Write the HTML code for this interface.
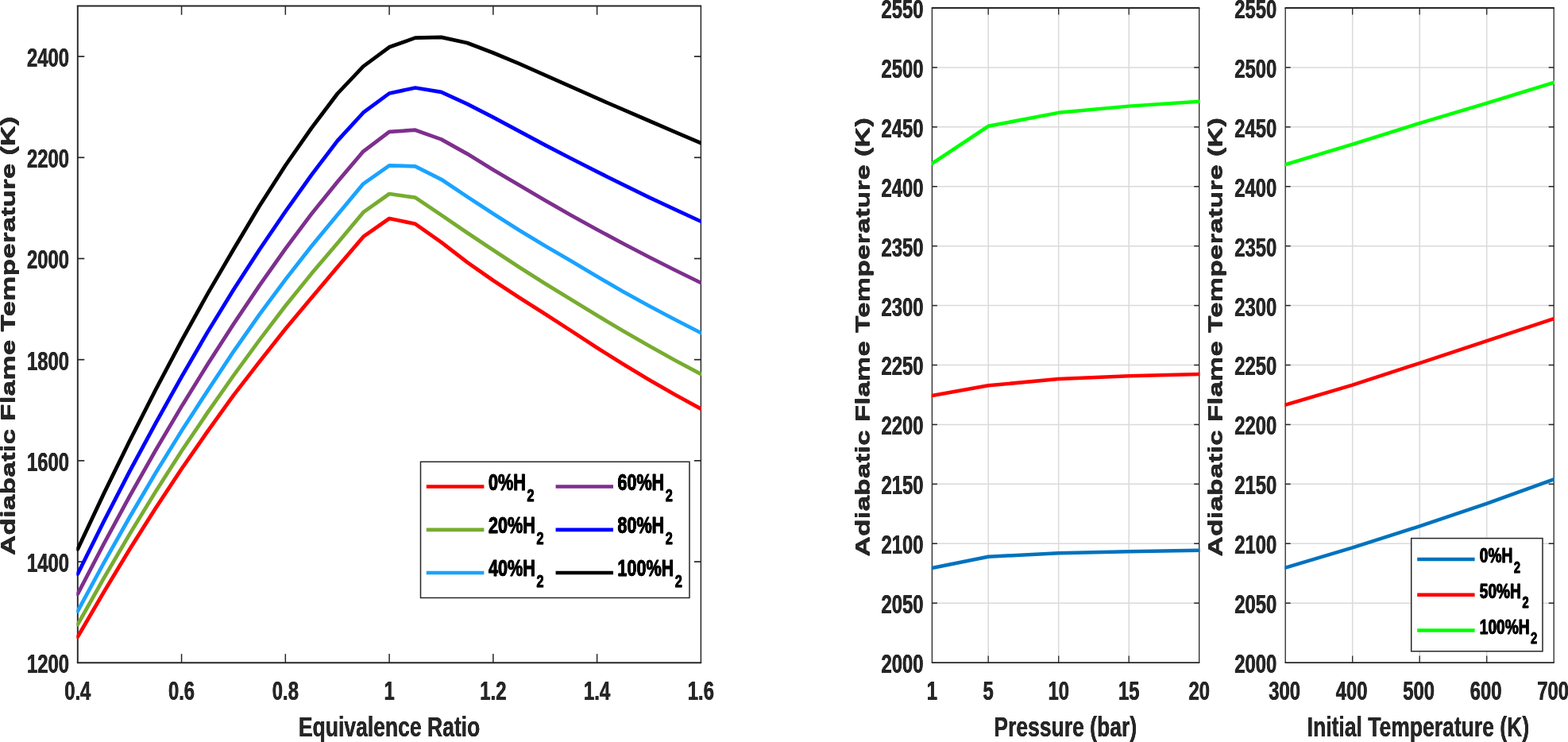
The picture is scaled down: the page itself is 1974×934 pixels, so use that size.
<!DOCTYPE html>
<html lang="en">
<head>
<meta charset="utf-8">
<title>Adiabatic Flame Temperature</title>
<style>
html,body{margin:0;padding:0;background:#fff;}
body{width:1974px;height:934px;overflow:hidden;}
svg{display:block;}
</style>
</head>
<body>
<svg width="1974" height="934" viewBox="0 0 1974 934" font-family="'Liberation Sans', sans-serif" font-weight="bold">
<rect width="1974" height="934" fill="#ffffff"/>
<g id="left-plot">
<line x1="228.57" y1="834.30" x2="228.57" y2="823.10" stroke="#262626" stroke-width="1.5"/>
<line x1="228.57" y1="7.50" x2="228.57" y2="18.70" stroke="#262626" stroke-width="1.5"/>
<line x1="359.33" y1="834.30" x2="359.33" y2="823.10" stroke="#262626" stroke-width="1.5"/>
<line x1="359.33" y1="7.50" x2="359.33" y2="18.70" stroke="#262626" stroke-width="1.5"/>
<line x1="490.10" y1="834.30" x2="490.10" y2="823.10" stroke="#262626" stroke-width="1.5"/>
<line x1="490.10" y1="7.50" x2="490.10" y2="18.70" stroke="#262626" stroke-width="1.5"/>
<line x1="620.87" y1="834.30" x2="620.87" y2="823.10" stroke="#262626" stroke-width="1.5"/>
<line x1="620.87" y1="7.50" x2="620.87" y2="18.70" stroke="#262626" stroke-width="1.5"/>
<line x1="751.63" y1="834.30" x2="751.63" y2="823.10" stroke="#262626" stroke-width="1.5"/>
<line x1="751.63" y1="7.50" x2="751.63" y2="18.70" stroke="#262626" stroke-width="1.5"/>
<line x1="97.80" y1="707.10" x2="106.30" y2="707.10" stroke="#262626" stroke-width="1.7"/>
<line x1="882.40" y1="707.10" x2="873.90" y2="707.10" stroke="#262626" stroke-width="1.7"/>
<line x1="97.80" y1="579.90" x2="106.30" y2="579.90" stroke="#262626" stroke-width="1.7"/>
<line x1="882.40" y1="579.90" x2="873.90" y2="579.90" stroke="#262626" stroke-width="1.7"/>
<line x1="97.80" y1="452.70" x2="106.30" y2="452.70" stroke="#262626" stroke-width="1.7"/>
<line x1="882.40" y1="452.70" x2="873.90" y2="452.70" stroke="#262626" stroke-width="1.7"/>
<line x1="97.80" y1="325.50" x2="106.30" y2="325.50" stroke="#262626" stroke-width="1.7"/>
<line x1="882.40" y1="325.50" x2="873.90" y2="325.50" stroke="#262626" stroke-width="1.7"/>
<line x1="97.80" y1="198.30" x2="106.30" y2="198.30" stroke="#262626" stroke-width="1.7"/>
<line x1="882.40" y1="198.30" x2="873.90" y2="198.30" stroke="#262626" stroke-width="1.7"/>
<line x1="97.80" y1="71.10" x2="106.30" y2="71.10" stroke="#262626" stroke-width="1.7"/>
<line x1="882.40" y1="71.10" x2="873.90" y2="71.10" stroke="#262626" stroke-width="1.7"/>
<line x1="96.85" y1="7.50" x2="883.15" y2="7.50" stroke="#262626" stroke-width="2.0"/>
<line x1="96.85" y1="834.30" x2="883.15" y2="834.30" stroke="#262626" stroke-width="2.0"/>
<line x1="97.80" y1="7.50" x2="97.80" y2="834.30" stroke="#262626" stroke-width="1.9"/>
<line x1="882.40" y1="7.50" x2="882.40" y2="834.30" stroke="#262626" stroke-width="1.5"/>
<clipPath id="clipL"><rect x="96.30" y="7.50" width="786.50" height="826.80"/></clipPath>
<g clip-path="url(#clipL)">
<polyline transform="scale(1.03 1)" points="94.95,801.70 126.69,745.60 158.43,691.50 190.17,639.70 221.91,590.20 253.65,543.10 285.39,497.60 317.13,455.30 348.87,414.00 380.61,374.90 412.35,336.20 444.09,297.90 475.83,275.00 507.56,281.80 539.30,304.90 571.04,330.10 602.78,353.00 634.52,374.50 666.26,395.20 698.00,416.40 729.74,437.80 761.48,458.30 793.22,478.00 824.96,496.80 856.70,514.60" fill="none" stroke="#ff0000" stroke-width="4.7" stroke-linejoin="round" stroke-linecap="round"/>
<polyline transform="scale(1.03 1)" points="94.95,786.20 126.69,728.20 158.43,672.40 190.17,618.90 221.91,567.80 253.65,519.40 285.39,472.80 317.13,428.00 348.87,385.00 380.61,344.60 412.35,306.30 444.09,267.20 475.83,244.00 507.56,248.60 539.30,270.60 571.04,293.00 602.78,314.80 634.52,336.30 666.26,357.00 698.00,376.90 729.74,397.00 761.48,416.50 793.22,435.30 824.96,453.50 856.70,470.90" fill="none" stroke="#77ac30" stroke-width="4.7" stroke-linejoin="round" stroke-linecap="round"/>
<polyline transform="scale(1.03 1)" points="94.95,769.30 126.69,709.00 158.43,651.00 190.17,595.40 221.91,542.40 253.65,491.90 285.39,442.60 317.13,395.90 348.87,351.90 380.61,310.00 412.35,270.50 444.09,231.30 475.83,208.30 507.56,209.30 539.30,225.80 571.04,247.60 602.78,269.00 634.52,289.70 666.26,309.60 698.00,328.50 729.74,348.10 761.48,367.00 793.22,385.00 824.96,402.30 856.70,419.00" fill="none" stroke="#1aa3ff" stroke-width="4.7" stroke-linejoin="round" stroke-linecap="round"/>
<polyline transform="scale(1.03 1)" points="94.95,747.80 126.69,685.00 158.43,624.70 190.17,566.80 221.91,511.70 253.65,458.70 285.39,408.00 317.13,359.40 348.87,313.20 380.61,269.40 412.35,229.00 444.09,190.60 475.83,165.90 507.56,163.70 539.30,175.40 571.04,193.60 602.78,213.70 634.52,233.10 666.26,252.20 698.00,270.90 729.74,289.00 761.48,306.50 793.22,323.50 824.96,340.00 856.70,356.00" fill="none" stroke="#7e2f8e" stroke-width="4.7" stroke-linejoin="round" stroke-linecap="round"/>
<polyline transform="scale(1.03 1)" points="94.95,722.50 126.69,656.70 158.43,593.40 190.17,532.80 221.91,474.30 253.65,418.10 285.39,364.80 317.13,314.30 348.87,266.30 380.61,220.40 412.35,177.40 444.09,141.70 475.83,117.50 507.56,110.50 539.30,115.90 571.04,130.80 602.78,147.60 634.52,165.10 666.26,182.60 698.00,199.50 729.74,216.10 761.48,232.40 793.22,248.30 824.96,263.70 856.70,278.70" fill="none" stroke="#0000ff" stroke-width="4.7" stroke-linejoin="round" stroke-linecap="round"/>
<polyline transform="scale(1.03 1)" points="94.95,691.40 126.69,621.70 158.43,554.90 190.17,490.80 221.91,428.90 253.65,370.00 285.39,314.00 317.13,259.30 348.87,208.30 380.61,161.40 412.35,118.00 444.09,83.50 475.83,59.30 507.56,47.60 539.30,46.90 571.04,54.00 602.78,66.50 634.52,80.20 666.26,94.60 698.00,109.20 729.74,123.70 761.48,137.90 793.22,152.00 824.96,166.10 856.70,180.10" fill="none" stroke="#000000" stroke-width="4.7" stroke-linejoin="round" stroke-linecap="round"/>
</g>
<text transform="translate(97.80 880.70) scale(0.7220 1.0000)" font-size="33.0" text-anchor="middle" fill="#262626" style="text-shadow:0.3px 0 0 #262626,-0.3px 0 0 #262626">0.4</text>
<text transform="translate(228.57 880.70) scale(0.7220 1.0000)" font-size="33.0" text-anchor="middle" fill="#262626" style="text-shadow:0.3px 0 0 #262626,-0.3px 0 0 #262626">0.6</text>
<text transform="translate(359.33 880.70) scale(0.7220 1.0000)" font-size="33.0" text-anchor="middle" fill="#262626" style="text-shadow:0.3px 0 0 #262626,-0.3px 0 0 #262626">0.8</text>
<text transform="translate(490.10 880.70) scale(0.7220 1.0000)" font-size="33.0" text-anchor="middle" fill="#262626" style="text-shadow:0.3px 0 0 #262626,-0.3px 0 0 #262626">1</text>
<text transform="translate(620.87 880.70) scale(0.7220 1.0000)" font-size="33.0" text-anchor="middle" fill="#262626" style="text-shadow:0.3px 0 0 #262626,-0.3px 0 0 #262626">1.2</text>
<text transform="translate(751.63 880.70) scale(0.7220 1.0000)" font-size="33.0" text-anchor="middle" fill="#262626" style="text-shadow:0.3px 0 0 #262626,-0.3px 0 0 #262626">1.4</text>
<text transform="translate(882.40 880.70) scale(0.7220 1.0000)" font-size="33.0" text-anchor="middle" fill="#262626" style="text-shadow:0.3px 0 0 #262626,-0.3px 0 0 #262626">1.6</text>
<text transform="translate(87.00 847.25) scale(0.7220 1.0000)" font-size="33.0" text-anchor="end" fill="#262626" style="text-shadow:0.3px 0 0 #262626,-0.3px 0 0 #262626">1200</text>
<text transform="translate(87.00 720.05) scale(0.7220 1.0000)" font-size="33.0" text-anchor="end" fill="#262626" style="text-shadow:0.3px 0 0 #262626,-0.3px 0 0 #262626">1400</text>
<text transform="translate(87.00 592.85) scale(0.7220 1.0000)" font-size="33.0" text-anchor="end" fill="#262626" style="text-shadow:0.3px 0 0 #262626,-0.3px 0 0 #262626">1600</text>
<text transform="translate(87.00 465.65) scale(0.7220 1.0000)" font-size="33.0" text-anchor="end" fill="#262626" style="text-shadow:0.3px 0 0 #262626,-0.3px 0 0 #262626">1800</text>
<text transform="translate(87.00 338.45) scale(0.7220 1.0000)" font-size="33.0" text-anchor="end" fill="#262626" style="text-shadow:0.3px 0 0 #262626,-0.3px 0 0 #262626">2000</text>
<text transform="translate(87.00 211.25) scale(0.7220 1.0000)" font-size="33.0" text-anchor="end" fill="#262626" style="text-shadow:0.3px 0 0 #262626,-0.3px 0 0 #262626">2200</text>
<text transform="translate(87.00 84.05) scale(0.7220 1.0000)" font-size="33.0" text-anchor="end" fill="#262626" style="text-shadow:0.3px 0 0 #262626,-0.3px 0 0 #262626">2400</text>
<text transform="translate(490.10 926.80) scale(0.7600 1.0000)" font-size="34.9" text-anchor="middle" fill="#262626" style="text-shadow:0.12px 0 0 #262626,-0.12px 0 0 #262626">Equivalence Ratio</text>
<text transform="translate(18.60 422.90) rotate(-90) scale(1.0000 0.6950)" font-size="35.45" text-anchor="middle" fill="#262626" style="text-shadow:0 0.45px 0 #262626,0 -0.45px 0 #262626">Adiabatic Flame Temperature (K)</text>
</g>
<g id="left-legend">
<rect x="529.50" y="581.30" width="338.50" height="171.20" fill="#ffffff" stroke="#262626" stroke-width="1.5"/>
<line x1="536.80" y1="612.50" x2="609.40" y2="612.50" stroke="#ff0000" stroke-width="4.7"/>
<text transform="translate(615.00 616.90) scale(0.7400 1)" font-size="29.2" fill="#000000" stroke="#000000" stroke-width="0.35" vector-effect="non-scaling-stroke" style="text-shadow:0.25px 0 0 #000,-0.25px 0 0 #000">0%H<tspan font-size="21.8" dy="14" dx="2.2">2</tspan></text>
<line x1="536.80" y1="666.80" x2="609.40" y2="666.80" stroke="#77ac30" stroke-width="4.7"/>
<text transform="translate(615.00 671.20) scale(0.7400 1)" font-size="29.2" fill="#000000" stroke="#000000" stroke-width="0.35" vector-effect="non-scaling-stroke" style="text-shadow:0.25px 0 0 #000,-0.25px 0 0 #000">20%H<tspan font-size="21.8" dy="14" dx="2.2">2</tspan></text>
<line x1="536.80" y1="721.00" x2="609.40" y2="721.00" stroke="#1aa3ff" stroke-width="4.7"/>
<text transform="translate(615.00 725.40) scale(0.7400 1)" font-size="29.2" fill="#000000" stroke="#000000" stroke-width="0.35" vector-effect="non-scaling-stroke" style="text-shadow:0.25px 0 0 #000,-0.25px 0 0 #000">40%H<tspan font-size="21.8" dy="14" dx="2.2">2</tspan></text>
<line x1="699.60" y1="612.50" x2="772.00" y2="612.50" stroke="#7e2f8e" stroke-width="4.7"/>
<text transform="translate(777.40 616.90) scale(0.7400 1)" font-size="29.2" fill="#000000" stroke="#000000" stroke-width="0.35" vector-effect="non-scaling-stroke" style="text-shadow:0.25px 0 0 #000,-0.25px 0 0 #000">60%H<tspan font-size="21.8" dy="14" dx="2.2">2</tspan></text>
<line x1="699.60" y1="666.80" x2="772.00" y2="666.80" stroke="#0000ff" stroke-width="4.7"/>
<text transform="translate(777.40 671.20) scale(0.7400 1)" font-size="29.2" fill="#000000" stroke="#000000" stroke-width="0.35" vector-effect="non-scaling-stroke" style="text-shadow:0.25px 0 0 #000,-0.25px 0 0 #000">80%H<tspan font-size="21.8" dy="14" dx="2.2">2</tspan></text>
<line x1="699.60" y1="721.00" x2="772.00" y2="721.00" stroke="#000000" stroke-width="4.7"/>
<text transform="translate(777.40 725.40) scale(0.7400 1)" font-size="29.2" fill="#000000" stroke="#000000" stroke-width="0.35" vector-effect="non-scaling-stroke" style="text-shadow:0.25px 0 0 #000,-0.25px 0 0 #000">100%H<tspan font-size="21.8" dy="14" dx="2.2">2</tspan></text>
</g>
<g id="right-plot-1">
<line x1="1244.20" y1="10.00" x2="1244.20" y2="834.10" stroke="#dadada" stroke-width="1.5"/>
<line x1="1332.70" y1="10.00" x2="1332.70" y2="834.10" stroke="#dadada" stroke-width="1.5"/>
<line x1="1421.20" y1="10.00" x2="1421.20" y2="834.10" stroke="#dadada" stroke-width="1.5"/>
<line x1="1173.40" y1="759.18" x2="1509.70" y2="759.18" stroke="#dadada" stroke-width="1.5"/>
<line x1="1173.40" y1="684.26" x2="1509.70" y2="684.26" stroke="#dadada" stroke-width="1.5"/>
<line x1="1173.40" y1="609.35" x2="1509.70" y2="609.35" stroke="#dadada" stroke-width="1.5"/>
<line x1="1173.40" y1="534.43" x2="1509.70" y2="534.43" stroke="#dadada" stroke-width="1.5"/>
<line x1="1173.40" y1="459.51" x2="1509.70" y2="459.51" stroke="#dadada" stroke-width="1.5"/>
<line x1="1173.40" y1="384.59" x2="1509.70" y2="384.59" stroke="#dadada" stroke-width="1.5"/>
<line x1="1173.40" y1="309.67" x2="1509.70" y2="309.67" stroke="#dadada" stroke-width="1.5"/>
<line x1="1173.40" y1="234.75" x2="1509.70" y2="234.75" stroke="#dadada" stroke-width="1.5"/>
<line x1="1173.40" y1="159.84" x2="1509.70" y2="159.84" stroke="#dadada" stroke-width="1.5"/>
<line x1="1173.40" y1="84.92" x2="1509.70" y2="84.92" stroke="#dadada" stroke-width="1.5"/>
<line x1="1244.20" y1="834.10" x2="1244.20" y2="825.50" stroke="#262626" stroke-width="1.3"/>
<line x1="1244.20" y1="10.00" x2="1244.20" y2="18.60" stroke="#262626" stroke-width="1.3"/>
<line x1="1332.70" y1="834.10" x2="1332.70" y2="825.50" stroke="#262626" stroke-width="1.3"/>
<line x1="1332.70" y1="10.00" x2="1332.70" y2="18.60" stroke="#262626" stroke-width="1.3"/>
<line x1="1421.20" y1="834.10" x2="1421.20" y2="825.50" stroke="#262626" stroke-width="1.3"/>
<line x1="1421.20" y1="10.00" x2="1421.20" y2="18.60" stroke="#262626" stroke-width="1.3"/>
<line x1="1173.40" y1="759.18" x2="1179.90" y2="759.18" stroke="#262626" stroke-width="1.5"/>
<line x1="1509.70" y1="759.18" x2="1503.20" y2="759.18" stroke="#262626" stroke-width="1.5"/>
<line x1="1173.40" y1="684.26" x2="1179.90" y2="684.26" stroke="#262626" stroke-width="1.5"/>
<line x1="1509.70" y1="684.26" x2="1503.20" y2="684.26" stroke="#262626" stroke-width="1.5"/>
<line x1="1173.40" y1="609.35" x2="1179.90" y2="609.35" stroke="#262626" stroke-width="1.5"/>
<line x1="1509.70" y1="609.35" x2="1503.20" y2="609.35" stroke="#262626" stroke-width="1.5"/>
<line x1="1173.40" y1="534.43" x2="1179.90" y2="534.43" stroke="#262626" stroke-width="1.5"/>
<line x1="1509.70" y1="534.43" x2="1503.20" y2="534.43" stroke="#262626" stroke-width="1.5"/>
<line x1="1173.40" y1="459.51" x2="1179.90" y2="459.51" stroke="#262626" stroke-width="1.5"/>
<line x1="1509.70" y1="459.51" x2="1503.20" y2="459.51" stroke="#262626" stroke-width="1.5"/>
<line x1="1173.40" y1="384.59" x2="1179.90" y2="384.59" stroke="#262626" stroke-width="1.5"/>
<line x1="1509.70" y1="384.59" x2="1503.20" y2="384.59" stroke="#262626" stroke-width="1.5"/>
<line x1="1173.40" y1="309.67" x2="1179.90" y2="309.67" stroke="#262626" stroke-width="1.5"/>
<line x1="1509.70" y1="309.67" x2="1503.20" y2="309.67" stroke="#262626" stroke-width="1.5"/>
<line x1="1173.40" y1="234.75" x2="1179.90" y2="234.75" stroke="#262626" stroke-width="1.5"/>
<line x1="1509.70" y1="234.75" x2="1503.20" y2="234.75" stroke="#262626" stroke-width="1.5"/>
<line x1="1173.40" y1="159.84" x2="1179.90" y2="159.84" stroke="#262626" stroke-width="1.5"/>
<line x1="1509.70" y1="159.84" x2="1503.20" y2="159.84" stroke="#262626" stroke-width="1.5"/>
<line x1="1173.40" y1="84.92" x2="1179.90" y2="84.92" stroke="#262626" stroke-width="1.5"/>
<line x1="1509.70" y1="84.92" x2="1503.20" y2="84.92" stroke="#262626" stroke-width="1.5"/>
<line x1="1172.75" y1="10.00" x2="1510.35" y2="10.00" stroke="#262626" stroke-width="1.8"/>
<line x1="1172.75" y1="834.10" x2="1510.35" y2="834.10" stroke="#262626" stroke-width="1.8"/>
<line x1="1173.40" y1="10.00" x2="1173.40" y2="834.10" stroke="#262626" stroke-width="1.3"/>
<line x1="1509.70" y1="10.00" x2="1509.70" y2="834.10" stroke="#262626" stroke-width="1.3"/>
<clipPath id="clipR0"><rect x="1172.60" y="10.00" width="337.90" height="824.10"/></clipPath>
<g clip-path="url(#clipR0)">
<polyline transform="scale(1.03 1)" points="1139.22,714.98 1207.96,700.75 1293.88,696.25 1379.81,694.15 1465.73,692.65" fill="none" stroke="#0072bd" stroke-width="4.5" stroke-linejoin="round" stroke-linecap="round"/>
<polyline transform="scale(1.03 1)" points="1139.22,498.02 1207.96,485.28 1293.88,477.04 1379.81,473.29 1465.73,471.05" fill="none" stroke="#ff0000" stroke-width="4.5" stroke-linejoin="round" stroke-linecap="round"/>
<polyline transform="scale(1.03 1)" points="1139.22,205.84 1207.96,158.79 1293.88,141.86 1379.81,133.62 1465.73,127.77" fill="none" stroke="#00ff00" stroke-width="4.5" stroke-linejoin="round" stroke-linecap="round"/>
</g>
<text transform="translate(1173.40 880.70) scale(0.7220 1.0000)" font-size="33.0" text-anchor="middle" fill="#262626" style="text-shadow:0.3px 0 0 #262626,-0.3px 0 0 #262626">1</text>
<text transform="translate(1244.20 880.70) scale(0.7220 1.0000)" font-size="33.0" text-anchor="middle" fill="#262626" style="text-shadow:0.3px 0 0 #262626,-0.3px 0 0 #262626">5</text>
<text transform="translate(1332.70 880.70) scale(0.7220 1.0000)" font-size="33.0" text-anchor="middle" fill="#262626" style="text-shadow:0.3px 0 0 #262626,-0.3px 0 0 #262626">10</text>
<text transform="translate(1421.20 880.70) scale(0.7220 1.0000)" font-size="33.0" text-anchor="middle" fill="#262626" style="text-shadow:0.3px 0 0 #262626,-0.3px 0 0 #262626">15</text>
<text transform="translate(1509.70 880.70) scale(0.7220 1.0000)" font-size="33.0" text-anchor="middle" fill="#262626" style="text-shadow:0.3px 0 0 #262626,-0.3px 0 0 #262626">20</text>
<text transform="translate(1162.40 847.05) scale(0.7220 1.0000)" font-size="33.0" text-anchor="end" fill="#262626" style="text-shadow:0.3px 0 0 #262626,-0.3px 0 0 #262626">2000</text>
<text transform="translate(1162.40 772.13) scale(0.7220 1.0000)" font-size="33.0" text-anchor="end" fill="#262626" style="text-shadow:0.3px 0 0 #262626,-0.3px 0 0 #262626">2050</text>
<text transform="translate(1162.40 697.21) scale(0.7220 1.0000)" font-size="33.0" text-anchor="end" fill="#262626" style="text-shadow:0.3px 0 0 #262626,-0.3px 0 0 #262626">2100</text>
<text transform="translate(1162.40 622.30) scale(0.7220 1.0000)" font-size="33.0" text-anchor="end" fill="#262626" style="text-shadow:0.3px 0 0 #262626,-0.3px 0 0 #262626">2150</text>
<text transform="translate(1162.40 547.38) scale(0.7220 1.0000)" font-size="33.0" text-anchor="end" fill="#262626" style="text-shadow:0.3px 0 0 #262626,-0.3px 0 0 #262626">2200</text>
<text transform="translate(1162.40 472.46) scale(0.7220 1.0000)" font-size="33.0" text-anchor="end" fill="#262626" style="text-shadow:0.3px 0 0 #262626,-0.3px 0 0 #262626">2250</text>
<text transform="translate(1162.40 397.54) scale(0.7220 1.0000)" font-size="33.0" text-anchor="end" fill="#262626" style="text-shadow:0.3px 0 0 #262626,-0.3px 0 0 #262626">2300</text>
<text transform="translate(1162.40 322.62) scale(0.7220 1.0000)" font-size="33.0" text-anchor="end" fill="#262626" style="text-shadow:0.3px 0 0 #262626,-0.3px 0 0 #262626">2350</text>
<text transform="translate(1162.40 247.70) scale(0.7220 1.0000)" font-size="33.0" text-anchor="end" fill="#262626" style="text-shadow:0.3px 0 0 #262626,-0.3px 0 0 #262626">2400</text>
<text transform="translate(1162.40 172.79) scale(0.7220 1.0000)" font-size="33.0" text-anchor="end" fill="#262626" style="text-shadow:0.3px 0 0 #262626,-0.3px 0 0 #262626">2450</text>
<text transform="translate(1162.40 97.87) scale(0.7220 1.0000)" font-size="33.0" text-anchor="end" fill="#262626" style="text-shadow:0.3px 0 0 #262626,-0.3px 0 0 #262626">2500</text>
<text transform="translate(1162.40 22.95) scale(0.7220 1.0000)" font-size="33.0" text-anchor="end" fill="#262626" style="text-shadow:0.3px 0 0 #262626,-0.3px 0 0 #262626">2550</text>
<text transform="translate(1341.25 926.60) scale(0.7600 1.0000)" font-size="34.9" text-anchor="middle" fill="#262626" style="text-shadow:0.12px 0 0 #262626,-0.12px 0 0 #262626">Pressure (bar)</text>
<text transform="translate(1094.40 424.35) rotate(-90) scale(1.0000 0.6950)" font-size="35.45" text-anchor="middle" fill="#262626" style="text-shadow:0 0.45px 0 #262626,0 -0.45px 0 #262626">Adiabatic Flame Temperature (K)</text>
</g>
<g id="right-plot-2">
<line x1="1702.70" y1="10.00" x2="1702.70" y2="834.10" stroke="#dadada" stroke-width="1.5"/>
<line x1="1787.20" y1="10.00" x2="1787.20" y2="834.10" stroke="#dadada" stroke-width="1.5"/>
<line x1="1871.70" y1="10.00" x2="1871.70" y2="834.10" stroke="#dadada" stroke-width="1.5"/>
<line x1="1618.20" y1="759.18" x2="1956.20" y2="759.18" stroke="#dadada" stroke-width="1.5"/>
<line x1="1618.20" y1="684.26" x2="1956.20" y2="684.26" stroke="#dadada" stroke-width="1.5"/>
<line x1="1618.20" y1="609.35" x2="1956.20" y2="609.35" stroke="#dadada" stroke-width="1.5"/>
<line x1="1618.20" y1="534.43" x2="1956.20" y2="534.43" stroke="#dadada" stroke-width="1.5"/>
<line x1="1618.20" y1="459.51" x2="1956.20" y2="459.51" stroke="#dadada" stroke-width="1.5"/>
<line x1="1618.20" y1="384.59" x2="1956.20" y2="384.59" stroke="#dadada" stroke-width="1.5"/>
<line x1="1618.20" y1="309.67" x2="1956.20" y2="309.67" stroke="#dadada" stroke-width="1.5"/>
<line x1="1618.20" y1="234.75" x2="1956.20" y2="234.75" stroke="#dadada" stroke-width="1.5"/>
<line x1="1618.20" y1="159.84" x2="1956.20" y2="159.84" stroke="#dadada" stroke-width="1.5"/>
<line x1="1618.20" y1="84.92" x2="1956.20" y2="84.92" stroke="#dadada" stroke-width="1.5"/>
<line x1="1702.70" y1="834.10" x2="1702.70" y2="825.50" stroke="#262626" stroke-width="1.3"/>
<line x1="1702.70" y1="10.00" x2="1702.70" y2="18.60" stroke="#262626" stroke-width="1.3"/>
<line x1="1787.20" y1="834.10" x2="1787.20" y2="825.50" stroke="#262626" stroke-width="1.3"/>
<line x1="1787.20" y1="10.00" x2="1787.20" y2="18.60" stroke="#262626" stroke-width="1.3"/>
<line x1="1871.70" y1="834.10" x2="1871.70" y2="825.50" stroke="#262626" stroke-width="1.3"/>
<line x1="1871.70" y1="10.00" x2="1871.70" y2="18.60" stroke="#262626" stroke-width="1.3"/>
<line x1="1618.20" y1="759.18" x2="1624.70" y2="759.18" stroke="#262626" stroke-width="1.5"/>
<line x1="1956.20" y1="759.18" x2="1949.70" y2="759.18" stroke="#262626" stroke-width="1.5"/>
<line x1="1618.20" y1="684.26" x2="1624.70" y2="684.26" stroke="#262626" stroke-width="1.5"/>
<line x1="1956.20" y1="684.26" x2="1949.70" y2="684.26" stroke="#262626" stroke-width="1.5"/>
<line x1="1618.20" y1="609.35" x2="1624.70" y2="609.35" stroke="#262626" stroke-width="1.5"/>
<line x1="1956.20" y1="609.35" x2="1949.70" y2="609.35" stroke="#262626" stroke-width="1.5"/>
<line x1="1618.20" y1="534.43" x2="1624.70" y2="534.43" stroke="#262626" stroke-width="1.5"/>
<line x1="1956.20" y1="534.43" x2="1949.70" y2="534.43" stroke="#262626" stroke-width="1.5"/>
<line x1="1618.20" y1="459.51" x2="1624.70" y2="459.51" stroke="#262626" stroke-width="1.5"/>
<line x1="1956.20" y1="459.51" x2="1949.70" y2="459.51" stroke="#262626" stroke-width="1.5"/>
<line x1="1618.20" y1="384.59" x2="1624.70" y2="384.59" stroke="#262626" stroke-width="1.5"/>
<line x1="1956.20" y1="384.59" x2="1949.70" y2="384.59" stroke="#262626" stroke-width="1.5"/>
<line x1="1618.20" y1="309.67" x2="1624.70" y2="309.67" stroke="#262626" stroke-width="1.5"/>
<line x1="1956.20" y1="309.67" x2="1949.70" y2="309.67" stroke="#262626" stroke-width="1.5"/>
<line x1="1618.20" y1="234.75" x2="1624.70" y2="234.75" stroke="#262626" stroke-width="1.5"/>
<line x1="1956.20" y1="234.75" x2="1949.70" y2="234.75" stroke="#262626" stroke-width="1.5"/>
<line x1="1618.20" y1="159.84" x2="1624.70" y2="159.84" stroke="#262626" stroke-width="1.5"/>
<line x1="1956.20" y1="159.84" x2="1949.70" y2="159.84" stroke="#262626" stroke-width="1.5"/>
<line x1="1618.20" y1="84.92" x2="1624.70" y2="84.92" stroke="#262626" stroke-width="1.5"/>
<line x1="1956.20" y1="84.92" x2="1949.70" y2="84.92" stroke="#262626" stroke-width="1.5"/>
<line x1="1617.55" y1="10.00" x2="1956.85" y2="10.00" stroke="#262626" stroke-width="1.8"/>
<line x1="1617.55" y1="834.10" x2="1956.85" y2="834.10" stroke="#262626" stroke-width="1.8"/>
<line x1="1618.20" y1="10.00" x2="1618.20" y2="834.10" stroke="#262626" stroke-width="1.3"/>
<line x1="1956.20" y1="10.00" x2="1956.20" y2="834.10" stroke="#262626" stroke-width="1.3"/>
<clipPath id="clipR1"><rect x="1617.40" y="10.00" width="339.60" height="824.10"/></clipPath>
<g clip-path="url(#clipR1)">
<polyline transform="scale(1.03 1)" points="1571.07,714.53 1653.11,689.36 1735.15,662.39 1817.18,633.92 1899.22,603.35" fill="none" stroke="#0072bd" stroke-width="4.5" stroke-linejoin="round" stroke-linecap="round"/>
<polyline transform="scale(1.03 1)" points="1571.07,509.70 1653.11,484.53 1735.15,457.11 1817.18,429.24 1899.22,401.07" fill="none" stroke="#ff0000" stroke-width="4.5" stroke-linejoin="round" stroke-linecap="round"/>
<polyline transform="scale(1.03 1)" points="1571.07,207.03 1653.11,181.56 1735.15,155.04 1817.18,129.87 1899.22,103.80" fill="none" stroke="#00ff00" stroke-width="4.5" stroke-linejoin="round" stroke-linecap="round"/>
</g>
<text transform="translate(1617.20 880.70) scale(0.7220 1.0000)" font-size="33.0" text-anchor="middle" fill="#262626" style="text-shadow:0.3px 0 0 #262626,-0.3px 0 0 #262626">300</text>
<text transform="translate(1701.70 880.70) scale(0.7220 1.0000)" font-size="33.0" text-anchor="middle" fill="#262626" style="text-shadow:0.3px 0 0 #262626,-0.3px 0 0 #262626">400</text>
<text transform="translate(1786.20 880.70) scale(0.7220 1.0000)" font-size="33.0" text-anchor="middle" fill="#262626" style="text-shadow:0.3px 0 0 #262626,-0.3px 0 0 #262626">500</text>
<text transform="translate(1870.70 880.70) scale(0.7220 1.0000)" font-size="33.0" text-anchor="middle" fill="#262626" style="text-shadow:0.3px 0 0 #262626,-0.3px 0 0 #262626">600</text>
<text transform="translate(1955.20 880.70) scale(0.7220 1.0000)" font-size="33.0" text-anchor="middle" fill="#262626" style="text-shadow:0.3px 0 0 #262626,-0.3px 0 0 #262626">700</text>
<text transform="translate(1607.20 847.05) scale(0.7220 1.0000)" font-size="33.0" text-anchor="end" fill="#262626" style="text-shadow:0.3px 0 0 #262626,-0.3px 0 0 #262626">2000</text>
<text transform="translate(1607.20 772.13) scale(0.7220 1.0000)" font-size="33.0" text-anchor="end" fill="#262626" style="text-shadow:0.3px 0 0 #262626,-0.3px 0 0 #262626">2050</text>
<text transform="translate(1607.20 697.21) scale(0.7220 1.0000)" font-size="33.0" text-anchor="end" fill="#262626" style="text-shadow:0.3px 0 0 #262626,-0.3px 0 0 #262626">2100</text>
<text transform="translate(1607.20 622.30) scale(0.7220 1.0000)" font-size="33.0" text-anchor="end" fill="#262626" style="text-shadow:0.3px 0 0 #262626,-0.3px 0 0 #262626">2150</text>
<text transform="translate(1607.20 547.38) scale(0.7220 1.0000)" font-size="33.0" text-anchor="end" fill="#262626" style="text-shadow:0.3px 0 0 #262626,-0.3px 0 0 #262626">2200</text>
<text transform="translate(1607.20 472.46) scale(0.7220 1.0000)" font-size="33.0" text-anchor="end" fill="#262626" style="text-shadow:0.3px 0 0 #262626,-0.3px 0 0 #262626">2250</text>
<text transform="translate(1607.20 397.54) scale(0.7220 1.0000)" font-size="33.0" text-anchor="end" fill="#262626" style="text-shadow:0.3px 0 0 #262626,-0.3px 0 0 #262626">2300</text>
<text transform="translate(1607.20 322.62) scale(0.7220 1.0000)" font-size="33.0" text-anchor="end" fill="#262626" style="text-shadow:0.3px 0 0 #262626,-0.3px 0 0 #262626">2350</text>
<text transform="translate(1607.20 247.70) scale(0.7220 1.0000)" font-size="33.0" text-anchor="end" fill="#262626" style="text-shadow:0.3px 0 0 #262626,-0.3px 0 0 #262626">2400</text>
<text transform="translate(1607.20 172.79) scale(0.7220 1.0000)" font-size="33.0" text-anchor="end" fill="#262626" style="text-shadow:0.3px 0 0 #262626,-0.3px 0 0 #262626">2450</text>
<text transform="translate(1607.20 97.87) scale(0.7220 1.0000)" font-size="33.0" text-anchor="end" fill="#262626" style="text-shadow:0.3px 0 0 #262626,-0.3px 0 0 #262626">2500</text>
<text transform="translate(1607.20 22.95) scale(0.7220 1.0000)" font-size="33.0" text-anchor="end" fill="#262626" style="text-shadow:0.3px 0 0 #262626,-0.3px 0 0 #262626">2550</text>
<text transform="translate(1785.40 926.60) scale(0.7600 1.0000)" font-size="34.9" text-anchor="middle" fill="#262626" style="text-shadow:0.12px 0 0 #262626,-0.12px 0 0 #262626">Initial Temperature (K)</text>
<text transform="translate(1538.20 424.35) rotate(-90) scale(1.0000 0.6950)" font-size="35.45" text-anchor="middle" fill="#262626" style="text-shadow:0 0.45px 0 #262626,0 -0.45px 0 #262626">Adiabatic Flame Temperature (K)</text>
</g>
<g id="right-legend">
<rect x="1776.70" y="677.60" width="165.30" height="142.20" fill="#ffffff" stroke="#262626" stroke-width="1.5"/>
<line x1="1784.20" y1="704.00" x2="1856.60" y2="704.00" stroke="#0072bd" stroke-width="4.5"/>
<text transform="translate(1862.80 708.40) scale(0.7300 1)" font-size="26.2" fill="#000000" stroke="#000000" stroke-width="0.35" vector-effect="non-scaling-stroke" style="text-shadow:0.25px 0 0 #000,-0.25px 0 0 #000">0%H<tspan font-size="20.0" dy="12.2" dx="2.2">2</tspan></text>
<line x1="1784.20" y1="748.80" x2="1856.60" y2="748.80" stroke="#ff0000" stroke-width="4.5"/>
<text transform="translate(1862.80 753.20) scale(0.7300 1)" font-size="26.2" fill="#000000" stroke="#000000" stroke-width="0.35" vector-effect="non-scaling-stroke" style="text-shadow:0.25px 0 0 #000,-0.25px 0 0 #000">50%H<tspan font-size="20.0" dy="12.2" dx="2.2">2</tspan></text>
<line x1="1784.20" y1="793.40" x2="1856.60" y2="793.40" stroke="#00ff00" stroke-width="4.5"/>
<text transform="translate(1862.80 797.80) scale(0.7300 1)" font-size="26.2" fill="#000000" stroke="#000000" stroke-width="0.35" vector-effect="non-scaling-stroke" style="text-shadow:0.25px 0 0 #000,-0.25px 0 0 #000">100%H<tspan font-size="20.0" dy="12.2" dx="2.2">2</tspan></text>
</g>
</svg>
</body>
</html>
